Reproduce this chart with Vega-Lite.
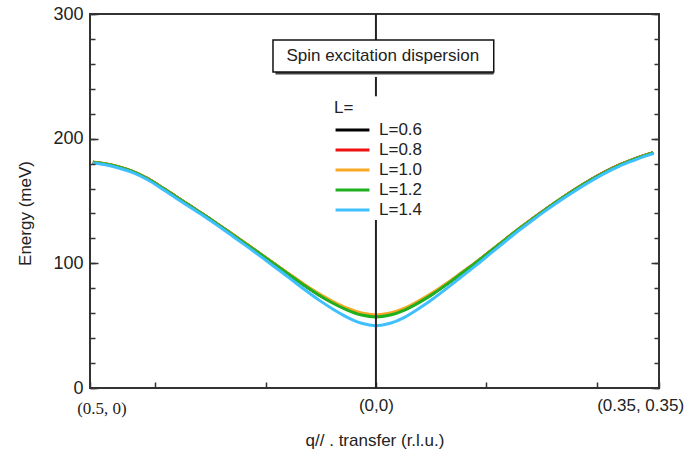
{
  "$schema": "https://vega.github.io/schema/vega-lite/v6.json",
  "width": 569,
  "height": 374,
  "autosize": {"type": "none"},
  "padding": {"left": 90, "top": 14, "right": 32, "bottom": 74},
  "background": "white",
  "config": {
    "font": "Liberation Sans",
    "view": {"stroke": "#333333", "strokeWidth": 2},
    "axis": {"domain": false, "grid": false, "tickColor": "#333333", "tickWidth": 1.5, "labelColor": "#222222", "titleColor": "#222222", "titleFontWeight": "normal"},
    "legend": {
      "orient": "none", "legendX": 244, "legendY": 86, "padding": 0,
      "titleFontSize": 17, "titleFontWeight": "normal", "titleColor": "#222222", "titlePadding": 3,
      "labelFontSize": 17, "labelColor": "#222222", "labelOffset": 8,
      "symbolType": "stroke", "symbolSize": 1150, "symbolStrokeWidth": 3,
      "clipHeight": 20, "rowPadding": 0
    }
  },
  "datasets": {
    "curves": [
      {"q": -0.495, "L06": 181.1, "L08": 181.1, "L10": 181.2, "L12": 181, "L14": 180.4},
      {"q": -0.475, "L06": 179.9, "L08": 179.9, "L10": 180, "L12": 179.8, "L14": 179.2},
      {"q": -0.45, "L06": 177.4, "L08": 177.4, "L10": 177.5, "L12": 177.3, "L14": 176.5},
      {"q": -0.425, "L06": 173.6, "L08": 173.6, "L10": 173.7, "L12": 173.5, "L14": 172.7},
      {"q": -0.4, "L06": 168.1, "L08": 168.1, "L10": 168.2, "L12": 168, "L14": 167.2},
      {"q": -0.375, "L06": 161.1, "L08": 161.1, "L10": 161.2, "L12": 161, "L14": 160},
      {"q": -0.35, "L06": 153.6, "L08": 153.6, "L10": 153.7, "L12": 153.5, "L14": 152.5},
      {"q": -0.325, "L06": 146.1, "L08": 146.1, "L10": 146.2, "L12": 146, "L14": 145},
      {"q": -0.3, "L06": 138.6, "L08": 138.6, "L10": 138.7, "L12": 138.5, "L14": 137.5},
      {"q": -0.275, "L06": 130.8, "L08": 130.8, "L10": 130.9, "L12": 130.7, "L14": 129.7},
      {"q": -0.25, "L06": 122.9, "L08": 122.95, "L10": 123.1, "L12": 122.8, "L14": 121.6},
      {"q": -0.225, "L06": 114.9, "L08": 114.95, "L10": 115.1, "L12": 114.8, "L14": 113.4},
      {"q": -0.2, "L06": 106.8, "L08": 106.9, "L10": 107, "L12": 106.7, "L14": 105},
      {"q": -0.175, "L06": 98.6, "L08": 98.75, "L10": 98.9, "L12": 98.5, "L14": 96.4},
      {"q": -0.15, "L06": 90.5, "L08": 90.65, "L10": 90.9, "L12": 90.3, "L14": 87.7},
      {"q": -0.125, "L06": 82.4, "L08": 82.65, "L10": 83.1, "L12": 82.2, "L14": 79},
      {"q": -0.1, "L06": 74.9, "L08": 75.2, "L10": 75.8, "L12": 74.6, "L14": 70.7},
      {"q": -0.075, "L06": 68.4, "L08": 68.7, "L10": 69.4, "L12": 68, "L14": 63.2},
      {"q": -0.05, "L06": 63, "L08": 63.3, "L10": 64, "L12": 62.5, "L14": 56.7},
      {"q": -0.025, "L06": 59.05, "L08": 59.4, "L10": 60.1, "L12": 58.5, "L14": 51.9},
      {"q": 0, "L06": 57.6, "L08": 58, "L10": 58.6, "L12": 57, "L14": 50},
      {"q": 0.025, "L06": 59.05, "L08": 59.4, "L10": 60.1, "L12": 58.5, "L14": 51.9},
      {"q": 0.05, "L06": 63, "L08": 63.3, "L10": 64, "L12": 62.5, "L14": 56.7},
      {"q": 0.075, "L06": 68.9, "L08": 69.2, "L10": 69.9, "L12": 68.5, "L14": 63.7},
      {"q": 0.1, "L06": 75.8, "L08": 76.1, "L10": 76.7, "L12": 75.5, "L14": 71.6},
      {"q": 0.125, "L06": 83.7, "L08": 83.95, "L10": 84.4, "L12": 83.5, "L14": 80.3},
      {"q": 0.15, "L06": 92.2, "L08": 92.35, "L10": 92.6, "L12": 92, "L14": 89.4},
      {"q": 0.175, "L06": 100.6, "L08": 100.75, "L10": 100.9, "L12": 100.5, "L14": 98.4},
      {"q": 0.2, "L06": 109.6, "L08": 109.7, "L10": 109.8, "L12": 109.5, "L14": 107.8},
      {"q": 0.225, "L06": 118.6, "L08": 118.65, "L10": 118.8, "L12": 118.5, "L14": 117.1},
      {"q": 0.25, "L06": 127.6, "L08": 127.65, "L10": 127.8, "L12": 127.5, "L14": 126.3},
      {"q": 0.275, "L06": 136.1, "L08": 136.1, "L10": 136.2, "L12": 136, "L14": 135},
      {"q": 0.3, "L06": 144.4, "L08": 144.4, "L10": 144.5, "L12": 144.3, "L14": 143.3},
      {"q": 0.325, "L06": 152.3, "L08": 152.3, "L10": 152.4, "L12": 152.2, "L14": 151.2},
      {"q": 0.35, "L06": 159.8, "L08": 159.8, "L10": 159.9, "L12": 159.7, "L14": 158.7},
      {"q": 0.375, "L06": 166.8, "L08": 166.8, "L10": 166.9, "L12": 166.7, "L14": 165.7},
      {"q": 0.4, "L06": 173.1, "L08": 173.1, "L10": 173.2, "L12": 173, "L14": 172.2},
      {"q": 0.425, "L06": 178.7, "L08": 178.7, "L10": 178.8, "L12": 178.6, "L14": 177.8},
      {"q": 0.45, "L06": 183.3, "L08": 183.3, "L10": 183.4, "L12": 183.2, "L14": 182.4},
      {"q": 0.475, "L06": 187.3, "L08": 187.3, "L10": 187.4, "L12": 187.2, "L14": 186.6},
      {"q": 0.485, "L06": 188.7, "L08": 188.7, "L10": 188.8, "L12": 188.6, "L14": 188}
    ],
    "vline": [
      {"x": 0, "y": 300, "y2": 279},
      {"x": 0, "y": 249.5, "y2": 234},
      {"x": 0, "y": 134.8, "y2": 0}
    ],
    "box": [
      {"x1": -0.18, "x2": 0.206, "y1": 253.5, "y2": 279.1, "tx": 0.012, "ty": 266.3, "label": "Spin excitation dispersion"}
    ]
  },
  "layer": [
    {
      "data": {"name": "curves"},
      "transform": [{"fold": ["L06", "L08", "L10", "L12", "L14"], "as": ["L", "E"]}],
      "mark": {"type": "line", "strokeWidth": 3, "interpolate": "monotone"},
      "encoding": {
        "x": {
          "field": "q", "type": "quantitative",
          "scale": {"domain": [-0.5, 0.495], "nice": false, "zero": false},
          "axis": {
            "values": [-0.48, 0, 0.462],
            "labelExpr": "datum.value < -0.1 ? '(0.5, 0)' : (datum.value > 0.1 ? '(0.35, 0.35)' : '(0,0)')",
            "ticks": false,
            "labelFont": {"condition": {"test": "datum.value < -0.1", "value": "Liberation Serif"}, "value": "Liberation Sans"},
            "labelFontSize": 17,
            "labelPadding": {"condition": {"test": "datum.value < -0.1", "value": 12}, "value": 9},
            "labelFlush": false,
            "labelOverlap": false,
            "title": "q// . transfer (r.l.u.)",
            "titleFontSize": 17,
            "titlePadding": 16
          }
        },
        "y": {
          "field": "E", "type": "quantitative",
          "scale": {"domain": [0, 300], "nice": false, "zero": false},
          "axis": {
            "values": [0, 100, 200, 300],
            "ticks": false,
            "labelFontSize": 18,
            "labelPadding": 7,
            "labelBaseline": "middle",
            "labelFlush": false,
            "labelOverlap": false,
            "title": "Energy (meV)",
            "titleFontSize": 17,
            "titleX": -65,
            "titleY": 199,
            "titleAlign": "center",
            "titleBaseline": "middle",
            "titleAngle": 270
          }
        },
        "color": {
          "field": "L", "type": "nominal",
          "scale": {"domain": ["L06", "L08", "L10", "L12", "L14"], "range": ["#000000", "#EE1111", "#F9A825", "#1FB01F", "#40BFFF"]},
          "legend": {"title": "L=", "labelExpr": "'L=' + slice(datum.label, 1, 2) + '.' + slice(datum.label, 2)"}
        }
      }
    },
    {
      "data": {"name": "vline"},
      "mark": {"type": "rule", "color": "#222222", "strokeWidth": 2},
      "encoding": {
        "x": {
          "field": "x", "type": "quantitative",
          "axis": {"orient": "top", "offset": -374, "values": [-0.5, -0.386, -0.193, 0, 0.193, 0.386, 0.495], "labels": false, "tickSize": 6, "title": null}
        },
        "y": {
          "field": "y", "type": "quantitative",
          "axis": {
            "orient": "left", "offset": -5,
            "values": [0, 20, 40, 60, 80, 100, 120, 140, 160, 180, 200, 220, 240, 260, 280, 300],
            "labels": false, "ticks": true, "tickSize": 5, "tickColor": "#333333", "tickWidth": 1.5, "tickOpacity": 1, "zindex": 2,
            "title": null
          }
        },
        "y2": {"field": "y2"}
      }
    },
    {
      "data": {"name": "box"},
      "mark": {"type": "rect", "fill": "#444444", "xOffset": 2.5, "yOffset": 2.5},
      "encoding": {
        "x": {"field": "x1", "type": "quantitative", "axis": null},
        "x2": {"field": "x2"},
        "y": {
          "field": "y1", "type": "quantitative",
          "axis": {
            "orient": "right", "offset": -5,
            "values": [0, 20, 40, 60, 80, 100, 120, 140, 160, 180, 200, 220, 240, 260, 280, 300],
            "labels": false, "ticks": true, "tickSize": 5, "tickColor": "#333333", "tickWidth": 1.5, "tickOpacity": 1, "zindex": 2,
            "title": null
          }
        },
        "y2": {"field": "y2"}
      }
    },
    {
      "data": {"name": "box"},
      "mark": {"type": "rect", "fill": "white", "stroke": "#111111", "strokeWidth": 1.5},
      "encoding": {
        "x": {"field": "x1", "type": "quantitative", "axis": null},
        "x2": {"field": "x2"},
        "y": {
          "field": "y1", "type": "quantitative",
          "axis": {"orient": "left", "offset": -8, "values": [0, 100, 200, 300], "labels": false, "ticks": true, "tickSize": 8, "tickColor": "#333333", "tickWidth": 1.5, "tickOpacity": 1, "zindex": 2, "title": null}
        },
        "y2": {"field": "y2"}
      }
    },
    {
      "data": {"name": "box"},
      "mark": {"type": "text", "fontSize": 17, "color": "#222222", "align": "center", "baseline": "middle"},
      "encoding": {
        "x": {"field": "tx", "type": "quantitative", "axis": null},
        "y": {
          "field": "ty", "type": "quantitative",
          "axis": {"orient": "right", "offset": -8, "values": [0, 100, 200, 300], "labels": false, "ticks": true, "tickSize": 8, "tickColor": "#333333", "tickWidth": 1.5, "tickOpacity": 1, "zindex": 2, "title": null}
        },
        "text": {"field": "label"}
      }
    }
  ],
  "resolve": {"axis": {"x": "independent", "y": "independent"}}
}
